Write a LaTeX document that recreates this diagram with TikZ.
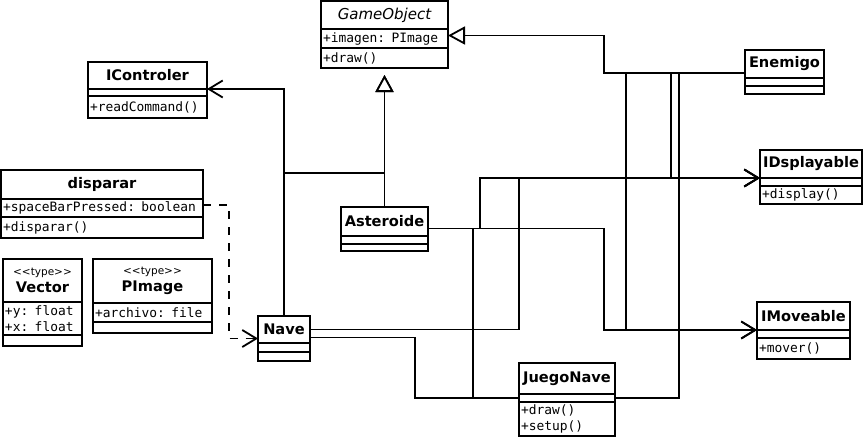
\documentclass[tikz,border=0pt]{standalone}
\usepackage{fontspec}
\setmainfont{DejaVu Sans}
\newfontfamily\monofont{DejaVu Sans Mono}
\usetikzlibrary{positioning,arrows.meta}

\begin{document}
\begin{tikzpicture}[x=1pt,y=-1pt,line width=1.8pt,
  classhead/.style={draw, rectangle, outer sep=0pt, inner sep=1pt, align=center, font=\fontsize{14.6}{17}\selectfont\bfseries},
  classpart/.style={draw, rectangle, outer sep=0pt, inner xsep=2pt, inner ysep=1pt, align=left, font=\monofont\fontsize{12.9}{16}\selectfont},
  assoc/.style={-{Straight Barb[length=14pt,width=17pt]}},
  inherit/.style={-{Triangle[open,length=17pt,width=18pt,fill=white]}},
  realize/.style={assoc, dash pattern=on 8pt off 8pt}]
  \useasboundingbox (0,0) rectangle (864,437);

  % classes
  \node (gameobj) [classhead, anchor=north west, minimum width=127pt, minimum height=28pt, font=\fontsize{15}{17}\selectfont\itshape] at (321,1) {GameObject};
  \node (gameobj-a) [classpart, below=0pt of gameobj, text width=123pt, minimum height=19pt] {+imagen: PImage};
  \node (gameobj-m) [classpart, below=0pt of gameobj-a, text width=123pt, minimum height=20pt] {+draw()};

  \node (icontroler) [classhead, anchor=north west, minimum width=119pt, minimum height=27pt] at (88,62) {IControler};
  \node (icontroler-e) [classpart, below=0pt of icontroler, text width=115pt, minimum height=7pt] {};
  \node (icontroler-m) [classpart, below=0pt of icontroler-e, text width=115pt, minimum height=22pt] {+readCommand()};

  \node (disparar) [classhead, anchor=north west, minimum width=202pt, minimum height=29pt] at (1,170) {disparar};
  \node (disparar-a) [classpart, below=0pt of disparar, text width=198pt, minimum height=18pt] {+spaceBarPressed: boolean};
  \node (disparar-m) [classpart, below=0pt of disparar-a, text width=198pt, minimum height=21pt] {+disparar()};

  \node (vector) [classhead, anchor=north west, minimum width=79pt, minimum height=43pt] at (3,259) {{\fontsize{10.5}{12}\selectfont\mdseries <\kern0pt<type>\kern0pt>}\\Vector};
  \node (vector-a) [classpart, below=0pt of vector, text width=75pt, minimum height=33pt] {+y: float\\+x: float};
  \node (vector-e) [classpart, below=0pt of vector-a, text width=75pt, minimum height=11pt] {};

  \node (pimage) [classhead, anchor=north west, minimum width=119pt, minimum height=44pt] at (93,259) {{\fontsize{10.5}{12}\selectfont\mdseries <\kern0pt<type>\kern0pt>}\\PImage};
  \node (pimage-a) [classpart, below=0pt of pimage, text width=115pt, minimum height=19pt] {+archivo: file};
  \node (pimage-e) [classpart, below=0pt of pimage-a, text width=115pt, minimum height=11pt] {};

  \node (nave) [classhead, anchor=north west, minimum width=52pt, minimum height=27pt] at (258,316) {Nave};
  \node (nave-e) [classpart, below=0pt of nave, text width=48pt, minimum height=9pt] {};
  \node (nave-m) [classpart, below=0pt of nave-e, text width=48pt, minimum height=9pt] {};

  \node (asteroide) [classhead, anchor=north west, minimum width=87pt, minimum height=29pt] at (341,207) {Asteroide};
  \node (asteroide-e) [classpart, below=0pt of asteroide, text width=83pt, minimum height=8pt] {};
  \node (asteroide-m) [classpart, below=0pt of asteroide-e, text width=83pt, minimum height=7pt] {};

  \node (enemigo) [classhead, anchor=north west, minimum width=79pt, minimum height=28pt] at (745,50) {Enemigo};
  \node (enemigo-e) [classpart, below=0pt of enemigo, text width=75pt, minimum height=8pt] {};
  \node (enemigo-m) [classpart, below=0pt of enemigo-e, text width=75pt, minimum height=8pt] {};

  \node (idsplayable) [classhead, anchor=north west, minimum width=102pt, minimum height=28pt] at (760,150) {IDsplayable};
  \node (idsplayable-e) [classpart, below=0pt of idsplayable, text width=98pt, minimum height=8pt] {};
  \node (idsplayable-m) [classpart, below=0pt of idsplayable-e, text width=98pt, minimum height=18pt] {+display()};

  \node (imoveable) [classhead, anchor=north west, minimum width=93pt, minimum height=28pt] at (757,302) {IMoveable};
  \node (imoveable-e) [classpart, below=0pt of imoveable, text width=89pt, minimum height=8pt] {};
  \node (imoveable-m) [classpart, below=0pt of imoveable-e, text width=89pt, minimum height=21pt] {+mover()};

  \node (juegonave) [classhead, anchor=north west, minimum width=96pt, minimum height=31pt] at (519,363) {JuegoNave};
  \node (juegonave-e) [classpart, below=0pt of juegonave, text width=92pt, minimum height=8pt] {};
  \node (juegonave-m) [classpart, below=0pt of juegonave-e, text width=92pt, minimum height=34pt] {+draw()\\+setup()};

  % line ends
  \coordinate (enemigo-l) at ([yshift=-9pt]enemigo.west);
  \coordinate (asteroide-r) at ([yshift=-7pt]asteroide.east);
  \coordinate (nave-r) at ([yshift=-8pt]nave.east);
  \coordinate (nave-l) at ([yshift=-9pt]nave.west);
  \coordinate (navejoin) at ([yshift=34pt]asteroide.north);

  % connectors
  \draw[assoc] (nave.north) |- (icontroler.south east);
  \draw[inherit, shorten >=7pt] (nave.north) |- (navejoin) -- (gameobj-m.south);
  \draw[inherit, shorten >=7pt] (asteroide.north) -- (gameobj-m.south);
  \draw[inherit] (enemigo-l) -- ++(-141,0) |- ([yshift=3pt]gameobj-a.east);
  \draw[assoc] (enemigo-l) -- ++(-74,0) |- (idsplayable.south west);
  \draw[assoc] (enemigo-l) -- ++(-119,0) |- (imoveable.south west);
  \draw (enemigo-l) -- ++(-66,0) |- (juegonave-e.east);
  \draw[assoc] (asteroide-r) -- ++(52,0) |- (idsplayable.south west);
  \draw[assoc] (asteroide-r) -- ++(176,0) |- (imoveable.south west);
  \draw (asteroide-r) -- ++(45,0) |- (juegonave-e.west);
  \draw[assoc] (nave.east) -- ++(209,0) |- (idsplayable.south west);
  \draw (nave-r) -- ++(105,0) |- (juegonave-e.west);
  \draw[realize] ([yshift=3pt]disparar-a.east) -- ++(26,0) |- (nave-l);
\end{tikzpicture}
\end{document}
